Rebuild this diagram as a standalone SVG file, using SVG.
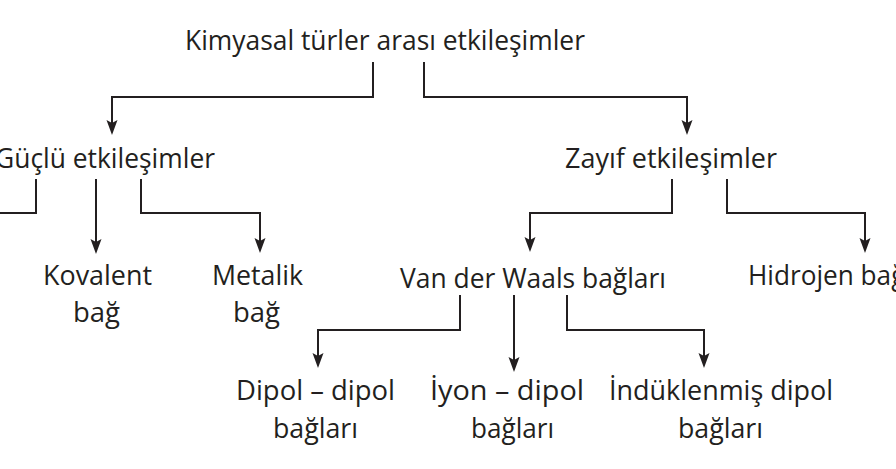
<svg xmlns="http://www.w3.org/2000/svg" width="896" height="469" viewBox="0 0 896 469">
<style>
  text { font-family: "Open Sans", "Noto Sans", "Liberation Sans", sans-serif; font-size: 27px; fill: #231f20; }
  .c { fill: none; stroke: #231f20; stroke-width: 2; }
</style>
<defs>
  <marker id="ah" markerUnits="userSpaceOnUse" markerWidth="16" markerHeight="12" viewBox="0 -6 16 12" refX="5" refY="0" orient="auto">
    <path d="M15,0 L0,-5.5 L3,0 L0,5.5 Z" fill="#231f20"/>
  </marker>
</defs>
<rect width="896" height="469" fill="#ffffff"/>
<g id="connectors">
  <path class="c" d="M373,62 V97 H112 V125" marker-end="url(#ah)"/>
  <path class="c" d="M424,62 V97 H687 V125" marker-end="url(#ah)"/>
  <path class="c" d="M36,179 V213 H0"/>
  <path class="c" d="M96,179 V244" marker-end="url(#ah)"/>
  <path class="c" d="M141,179 V213 H260 V243" marker-end="url(#ah)"/>
  <path class="c" d="M672,179 V213 H530 V242" marker-end="url(#ah)"/>
  <path class="c" d="M727,179 V213 H865 V243" marker-end="url(#ah)"/>
  <path class="c" d="M460,295 V330 H318 V358" marker-end="url(#ah)"/>
  <path class="c" d="M514,295 V362" marker-end="url(#ah)"/>
  <path class="c" d="M567,295 V330 H704 V358" marker-end="url(#ah)"/>
</g>
<g id="node-root"><text x="185" y="50" textLength="400" lengthAdjust="spacingAndGlyphs">Kimyasal türler arası etkileşimler</text></g>
<g id="node-guclu"><text x="-5" y="168" textLength="220" lengthAdjust="spacingAndGlyphs">Güçlü etkileşimler</text></g>
<g id="node-zayif"><text x="565" y="168" textLength="212" lengthAdjust="spacingAndGlyphs">Zayıf etkileşimler</text></g>
<g id="node-kovalent">
  <text x="43" y="285" textLength="109" lengthAdjust="spacingAndGlyphs">Kovalent</text>
  <text x="73" y="322" textLength="47" lengthAdjust="spacingAndGlyphs">bağ</text>
</g>
<g id="node-metalik">
  <text x="212" y="285" textLength="91" lengthAdjust="spacingAndGlyphs">Metalik</text>
  <text x="233" y="322" textLength="47" lengthAdjust="spacingAndGlyphs">bağ</text>
</g>
<g id="node-vdw"><text x="400" y="288" textLength="266" lengthAdjust="spacingAndGlyphs">Van der Waals bağları</text></g>
<g id="node-hidrojen"><text x="748" y="285" textLength="164" lengthAdjust="spacingAndGlyphs">Hidrojen bağı</text></g>
<g id="node-dipol">
  <text x="236" y="400" textLength="159" lengthAdjust="spacingAndGlyphs">Dipol – dipol</text>
  <text x="273" y="438" textLength="85" lengthAdjust="spacingAndGlyphs">bağları</text>
</g>
<g id="node-iyon">
  <text x="430" y="400" textLength="154" lengthAdjust="spacingAndGlyphs">İyon – dipol</text>
  <text x="471" y="438" textLength="83" lengthAdjust="spacingAndGlyphs">bağları</text>
</g>
<g id="node-induklenmis">
  <text x="609" y="400" textLength="224" lengthAdjust="spacingAndGlyphs">İndüklenmiş dipol</text>
  <text x="678" y="438" textLength="85" lengthAdjust="spacingAndGlyphs">bağları</text>
</g>
</svg>
